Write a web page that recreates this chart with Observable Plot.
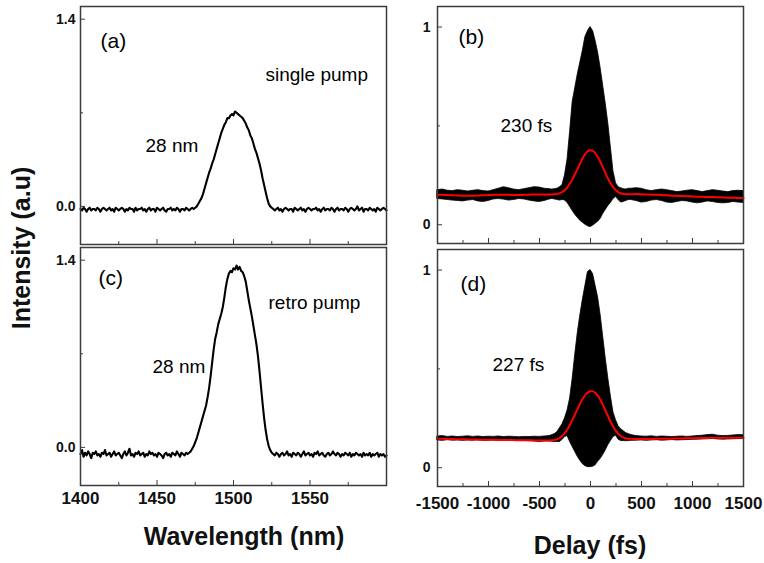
<!DOCTYPE html>
<html>
<head>
<meta charset="utf-8">
<script src="https://cdn.jsdelivr.net/npm/d3@7"></script>
<script src="https://cdn.jsdelivr.net/npm/@observablehq/plot@0.6"></script>
<style>
  body { margin: 0; background: #fff; }
  #fig { position: relative; width: 764px; height: 563px; background: #fff; }
  #fig > svg { position: absolute; }
</style>
</head>
<body>
<div id="fig"></div>
<script>
// ---------------- data ----------------
// spectra sampled every 1 nm from 1400 to 1600 nm
const wavelengths = d3.range(1400, 1601, 1);

const spectrumSingle = [
 -0.02,-0.03,-0.01,-0.02,-0.04,-0.02,-0.01,-0.03,-0.02,-0.02,
 -0.03,-0.01,-0.02,-0.04,-0.02,-0.01,-0.02,-0.03,-0.02,-0.01,
 -0.03,-0.02,-0.04,-0.01,-0.02,-0.03,-0.02,-0.01,-0.02,-0.04,
 -0.02,-0.03,-0.01,-0.02,-0.02,-0.04,-0.01,-0.03,-0.02,-0.02,
 -0.01,-0.03,-0.02,-0.04,-0.02,-0.01,-0.03,-0.02,-0.02,-0.04,
 -0.01,-0.02,-0.03,-0.02,-0.01,-0.03,-0.04,-0.02,-0.02,-0.01,
 -0.03,-0.02,-0.03,-0.01,-0.02,-0.04,-0.02,-0.02,-0.03,-0.01,
 -0.02,-0.03,-0.02,-0.01,-0.02,
 -0.01,0.00,0.02,0.04,0.06,0.09,0.13,0.17,0.21,0.25,
 0.28,0.32,0.35,0.39,0.43,0.47,0.51,0.55,0.58,0.61,
 0.63,0.66,0.66,0.68,0.69,0.68,0.71,0.70,0.69,0.68,
 0.67,0.66,0.64,0.62,0.59,0.57,0.53,0.51,0.47,0.43,
 0.40,0.36,0.32,0.27,0.21,0.16,0.11,0.06,0.02,0.00,
 -0.01,
 -0.02,-0.03,-0.02,-0.01,-0.03,-0.02,-0.04,-0.02,-0.01,-0.02,
 -0.03,-0.02,-0.02,-0.04,-0.01,-0.02,-0.03,-0.02,-0.01,-0.03,
 -0.02,-0.04,-0.02,-0.01,-0.02,-0.03,-0.02,-0.02,-0.01,-0.03,
 -0.02,-0.04,-0.02,-0.01,-0.03,-0.02,-0.02,-0.03,-0.01,-0.02,
 -0.04,-0.02,-0.01,-0.03,-0.02,-0.02,-0.03,-0.01,-0.02,-0.04,
 -0.02,-0.01,-0.02,-0.03,-0.02,0.00,-0.03,-0.02,-0.01,-0.04,
 -0.02,-0.02,-0.03,-0.01,-0.02,-0.03,-0.02,-0.04,-0.01,-0.02,
 -0.03,-0.02,-0.01,-0.02,-0.03
];

const spectrumRetro = [
 -0.05,-0.02,-0.07,-0.04,-0.06,-0.03,-0.05,-0.08,-0.04,-0.05,
 -0.03,-0.06,-0.05,-0.07,-0.04,-0.05,-0.02,-0.06,-0.05,-0.04,
 -0.07,-0.05,-0.03,-0.06,-0.05,-0.04,-0.06,-0.08,-0.05,-0.03,
 -0.06,-0.04,-0.01,-0.06,-0.05,-0.07,-0.04,-0.05,-0.03,-0.06,
 -0.05,-0.04,-0.07,-0.05,-0.06,-0.03,-0.05,-0.04,-0.06,-0.05,
 -0.07,-0.04,-0.05,-0.06,-0.08,-0.05,-0.04,-0.06,-0.05,-0.07,
 -0.04,-0.05,-0.06,-0.03,-0.05,-0.07,-0.04,-0.05,-0.06,-0.04,
 -0.05,
 -0.04,-0.03,-0.01,0.01,0.04,0.07,0.11,0.15,0.19,0.23,
 0.27,0.31,0.37,0.44,0.53,0.63,0.73,0.81,0.86,0.92,
 0.96,1.00,1.05,1.12,1.20,1.26,1.30,1.32,1.31,1.34,
 1.33,1.36,1.33,1.35,1.32,1.31,1.28,1.24,1.17,1.10,
 1.04,0.98,0.91,0.84,0.77,0.68,0.57,0.45,0.33,0.22,
 0.13,0.06,0.01,-0.02,-0.04,-0.05,
 -0.06,-0.04,-0.05,-0.07,-0.05,-0.04,-0.06,-0.05,-0.03,-0.06,
 -0.05,-0.07,-0.04,-0.05,-0.06,-0.04,-0.05,-0.07,-0.05,-0.03,
 -0.06,-0.05,-0.04,-0.06,-0.05,-0.07,-0.04,-0.05,-0.03,-0.06,
 -0.05,-0.04,-0.06,-0.07,-0.05,-0.04,-0.06,-0.05,-0.03,-0.05,
 -0.06,-0.04,-0.05,-0.07,-0.05,-0.06,-0.04,-0.05,-0.06,-0.04,
 -0.07,-0.05,-0.06,-0.04,-0.05,-0.06,-0.05,-0.07,-0.04,-0.06,
 -0.05,-0.06,-0.04,-0.07,-0.05,-0.06,-0.05,-0.04,-0.07,-0.05,
 -0.06,-0.05,-0.07,-0.06
];

// autocorrelation traces (delay in fs)
const delays = [
 -1500,-1450,-1400,-1350,-1300,-1250,-1200,-1150,-1100,-1050,-1000,-950,-900,-850,-800,-750,-700,-650,-600,-550,-500,-450,
 -400,-375,-350,-325,-300,-275,-250,-225,-200,-175,-150,-125,-100,-75,-50,-25,0,25,50,75,100,125,150,175,200,225,250,275,300,325,350,375,400,
 450,500,550,600,650,700,750,800,850,900,950,1000,1050,1100,1150,1200,1250,1300,1350,1400,1450,1500
];

const acSingleUpper = [
 0.175,0.178,0.172,0.170,0.175,0.172,0.168,0.172,0.175,0.170,0.168,0.175,0.182,0.190,0.185,0.178,0.175,0.180,0.185,0.190,0.188,0.182,
 0.180,0.178,0.180,0.182,0.190,0.200,0.250,0.330,0.470,0.620,0.690,0.760,0.820,0.880,0.950,0.980,1.000,0.980,0.930,0.870,0.790,0.700,0.610,0.510,0.390,0.270,0.210,0.190,0.185,0.180,0.178,0.182,0.182,
 0.185,0.182,0.175,0.170,0.175,0.178,0.175,0.170,0.165,0.168,0.172,0.175,0.170,0.165,0.170,0.175,0.172,0.168,0.165,0.170,0.172,0.170
];
const acSingleLower = [
 0.130,0.128,0.125,0.122,0.120,0.118,0.122,0.125,0.118,0.115,0.120,0.128,0.130,0.127,0.122,0.125,0.130,0.128,0.122,0.118,0.115,0.120,
 0.128,0.130,0.128,0.125,0.122,0.125,0.123,0.110,0.090,0.070,0.050,0.035,0.020,0.010,0.000,-0.008,-0.012,-0.005,0.005,0.015,0.030,0.055,0.075,0.095,0.110,0.130,0.140,0.125,0.112,0.115,0.120,0.125,0.125,
 0.120,0.112,0.115,0.122,0.125,0.120,0.112,0.110,0.115,0.120,0.118,0.112,0.108,0.112,0.118,0.115,0.110,0.108,0.110,0.115,0.112,0.110
];
const acSingleFit = [
 0.150,0.151,0.150,0.149,0.148,0.147,0.147,0.147,0.148,0.149,0.150,0.151,0.152,0.152,0.151,0.150,0.150,0.151,0.152,0.153,0.153,0.153,
 0.153,0.153,0.154,0.156,0.160,0.166,0.176,0.190,0.210,0.232,0.258,0.285,0.312,0.338,0.358,0.372,0.377,0.373,0.360,0.340,0.314,0.286,0.257,0.230,0.207,0.188,0.174,0.164,0.158,0.155,0.154,0.154,0.154,
 0.155,0.154,0.153,0.152,0.151,0.150,0.149,0.147,0.146,0.145,0.144,0.143,0.142,0.141,0.140,0.140,0.139,0.138,0.137,0.136,0.135,0.134
];

const acRetroUpper = [
 0.158,0.160,0.156,0.158,0.155,0.157,0.159,0.156,0.158,0.155,0.157,0.156,0.158,0.155,0.157,0.156,0.154,0.156,0.155,0.157,0.156,0.158,
 0.160,0.165,0.170,0.180,0.200,0.220,0.250,0.290,0.350,0.450,0.570,0.680,0.770,0.850,0.920,0.990,1.000,0.980,0.920,0.860,0.770,0.660,0.550,0.450,0.360,0.280,0.240,0.210,0.195,0.185,0.175,0.170,0.165,
 0.160,0.158,0.157,0.159,0.156,0.158,0.157,0.155,0.157,0.158,0.156,0.158,0.160,0.162,0.165,0.167,0.162,0.160,0.161,0.163,0.165,0.164
];
const acRetroLower = [
 0.138,0.136,0.139,0.137,0.138,0.136,0.138,0.137,0.139,0.136,0.137,0.138,0.136,0.137,0.138,0.136,0.135,0.136,0.134,0.133,0.130,0.133,
 0.133,0.132,0.130,0.130,0.130,0.140,0.155,0.160,0.130,0.105,0.080,0.055,0.035,0.018,0.008,0.003,0.003,0.005,0.012,0.030,0.045,0.065,0.088,0.115,0.135,0.155,0.162,0.142,0.135,0.135,0.134,0.135,0.136,
 0.137,0.138,0.136,0.138,0.139,0.137,0.138,0.140,0.138,0.139,0.140,0.141,0.142,0.143,0.144,0.146,0.143,0.142,0.143,0.144,0.145,0.145
];
const acRetroFit = [
 0.146,0.146,0.145,0.145,0.144,0.144,0.143,0.143,0.142,0.142,0.141,0.141,0.141,0.140,0.140,0.140,0.139,0.139,0.139,0.138,0.138,0.138,
 0.138,0.139,0.141,0.145,0.152,0.162,0.177,0.196,0.219,0.245,0.272,0.300,0.327,0.350,0.369,0.381,0.387,0.386,0.378,0.362,0.340,0.314,0.285,0.257,0.230,0.206,0.186,0.170,0.159,0.152,0.148,0.146,0.146,
 0.145,0.145,0.145,0.145,0.146,0.146,0.147,0.147,0.148,0.148,0.149,0.149,0.150,0.150,0.150,0.151,0.151,0.151,0.152,0.152,0.152,0.152
];

// ticks
const wlMajorTicks = [1400, 1450, 1500, 1550, 1600];
const wlMinorTicks = [1425, 1475, 1525, 1575];
const wlLabelTicks = [1400, 1450, 1500, 1550];
const delayMajorTicks = [-1500, -1000, -500, 0, 500, 1000, 1500];
const delayMinorTicks = [-1250, -750, -250, 250, 750, 1250];
const specYTicks = [0, 1.4];
const specYMinor = [0.7];
const acYTicks = [0, 1];
const acYMinor = [0.5];

// annotation texts
const panelTags = ["(a)", "(b)", "(c)", "(d)"];
const pumpLabels = ["single pump", "retro pump"];
const widthLabels = ["28 nm", "230 fs", "28 nm", "227 fs"];
const axisTitles = {y: "Intensity (a.u)", xLeft: "Wavelength (nm)", xRight: "Delay (fs)"};

// ---------------- drawing ----------------
const FONT = '"Liberation Sans", Arial, Helvetica, sans-serif';
const FRAME = "#3c3c3c";
const fig = document.getElementById("fig");

function note(text, dx, dy, size) {
  return Plot.text([text], {
    text: d => d, frameAnchor: "top-left", dx, dy,
    textAnchor: "start", lineAnchor: "bottom",
    fontSize: size, fill: "#000"
  });
}

function panel(o) {
  const marks = [
    ...o.marks,
    Plot.frame({stroke: FRAME, strokeWidth: 1.5}),
    Plot.axisY(o.yMajor, {anchor: "left", tickSize: -5, fill: "none", stroke: FRAME, label: null}),
    Plot.axisY(o.yMinor, {anchor: "left", tickSize: -3, fill: "none", stroke: FRAME, label: null}),
    Plot.axisX(o.xMajor, {anchor: "bottom", tickSize: -5, fill: "none", stroke: FRAME, label: null}),
    Plot.axisX(o.xMinor, {anchor: "bottom", tickSize: -3, fill: "none", stroke: FRAME, label: null}),
    Plot.text(o.yMajor, {y: d => d, text: o.yFmt, frameAnchor: "left", dx: -o.yPad,
      textAnchor: "end", lineAnchor: "middle", fontSize: 14, fontWeight: "bold", fill: "#111"}),
    ...(o.xLabels ? [Plot.text(o.xLabels, {x: d => d, text: d => String(d), frameAnchor: "bottom",
      dy: o.xPad, lineAnchor: "top", fontSize: 17, fontWeight: "bold", fill: "#111"})] : []),
    ...o.notes
  ];
  const p = Plot.plot({
    width: o.width, height: o.height,
    marginLeft: o.m[0], marginRight: o.m[1], marginTop: o.m[2], marginBottom: o.m[3],
    x: {domain: o.xDomain},
    y: {domain: o.yDomain},
    style: {fontFamily: FONT, background: "transparent", overflow: "visible"},
    marks
  });
  p.style.position = "absolute";
  p.style.left = o.left + "px";
  p.style.top = o.top + "px";
  p.style.maxWidth = "none";
  fig.appendChild(p);
}

const specA = wavelengths.map((w, i) => ({w, v: spectrumSingle[i]}));
const specC = wavelengths.map((w, i) => ({w, v: spectrumRetro[i]}));
const acB = delays.map((t, i) => ({t, up: acSingleUpper[i], lo: acSingleLower[i], fit: acSingleFit[i]}));
const acD = delays.map((t, i) => ({t, up: acRetroUpper[i], lo: acRetroLower[i], fit: acRetroFit[i]}));

const specYDomain = [-0.285, 1.495];
const acYDomain = [-0.095, 1.104];
const specFmt = d => d.toFixed(1);
const acFmt = d => String(d);

// (a)
panel({
  left: 0, top: 0, width: 392, height: 250, m: [80, 6, 6, 6],
  xDomain: [1400, 1600], yDomain: specYDomain,
  xMajor: wlMajorTicks, xMinor: wlMinorTicks, xLabels: null,
  yMajor: specYTicks, yMinor: specYMinor, yFmt: specFmt, yPad: 5,
  marks: [Plot.line(specA, {x: "w", y: "v", stroke: "#000", strokeWidth: 2.1})],
  notes: [note(panelTags[0], 20, 41, 21), note(pumpLabels[0], 185, 74, 19), note(widthLabels[0], 65, 145, 19)]
});
// (c)
panel({
  left: 0, top: 241, width: 392, height: 292, m: [80, 6, 6, 48],
  xDomain: [1400, 1600], yDomain: specYDomain,
  xMajor: wlMajorTicks, xMinor: wlMinorTicks, xLabels: wlLabelTicks, xPad: 6,
  yMajor: specYTicks, yMinor: specYMinor, yFmt: specFmt, yPad: 5,
  marks: [Plot.line(specC, {x: "w", y: "v", stroke: "#000", strokeWidth: 2.1})],
  notes: [note(panelTags[2], 18, 37, 21), note(pumpLabels[1], 188, 61, 19), note(widthLabels[2], 72, 125, 19)]
});
// (b)
panel({
  left: 380, top: 0, width: 384, height: 250, m: [57, 21, 6, 7],
  xDomain: [-1500, 1500], yDomain: acYDomain,
  xMajor: delayMajorTicks, xMinor: delayMinorTicks, xLabels: null,
  yMajor: acYTicks, yMinor: acYMinor, yFmt: acFmt, yPad: 7,
  marks: [
    Plot.areaY(acB, {x: "t", y1: "lo", y2: "up", fill: "#000", stroke: "#000", strokeWidth: 0.8}),
    Plot.line(acB, {x: "t", y: "fit", stroke: "#ff0000", strokeWidth: 2, curve: "catmull-rom"})
  ],
  notes: [note(panelTags[1], 21, 37, 21), note(widthLabels[1], 63, 125, 19)]
});
// (d)
panel({
  left: 380, top: 243, width: 384, height: 292, m: [57, 21, 6, 49],
  xDomain: [-1500, 1500], yDomain: acYDomain,
  xMajor: delayMajorTicks, xMinor: delayMinorTicks, xLabels: delayMajorTicks, xPad: 10,
  yMajor: acYTicks, yMinor: acYMinor, yFmt: acFmt, yPad: 7,
  marks: [
    Plot.areaY(acD, {x: "t", y1: "lo", y2: "up", fill: "#000", stroke: "#000", strokeWidth: 0.8}),
    Plot.line(acD, {x: "t", y: "fit", stroke: "#ff0000", strokeWidth: 2, curve: "catmull-rom"})
  ],
  notes: [note(panelTags[3], 23, 41, 21), note(widthLabels[3], 55, 121, 19)]
});

// axis titles
const ov = d3.select(fig).append("svg")
  .attr("width", 764).attr("height", 563)
  .style("left", "0px").style("top", "0px")
  .attr("font-family", FONT).attr("font-weight", "bold").attr("font-size", 25).attr("fill", "#111");
ov.append("text").attr("x", 244).attr("y", 545).attr("text-anchor", "middle").text(axisTitles.xLeft);
ov.append("text").attr("x", 590).attr("y", 554).attr("text-anchor", "middle").text(axisTitles.xRight);
ov.append("text").attr("transform", "translate(30,248) rotate(-90)").attr("text-anchor", "middle").text(axisTitles.y);
</script>
</body>
</html>
